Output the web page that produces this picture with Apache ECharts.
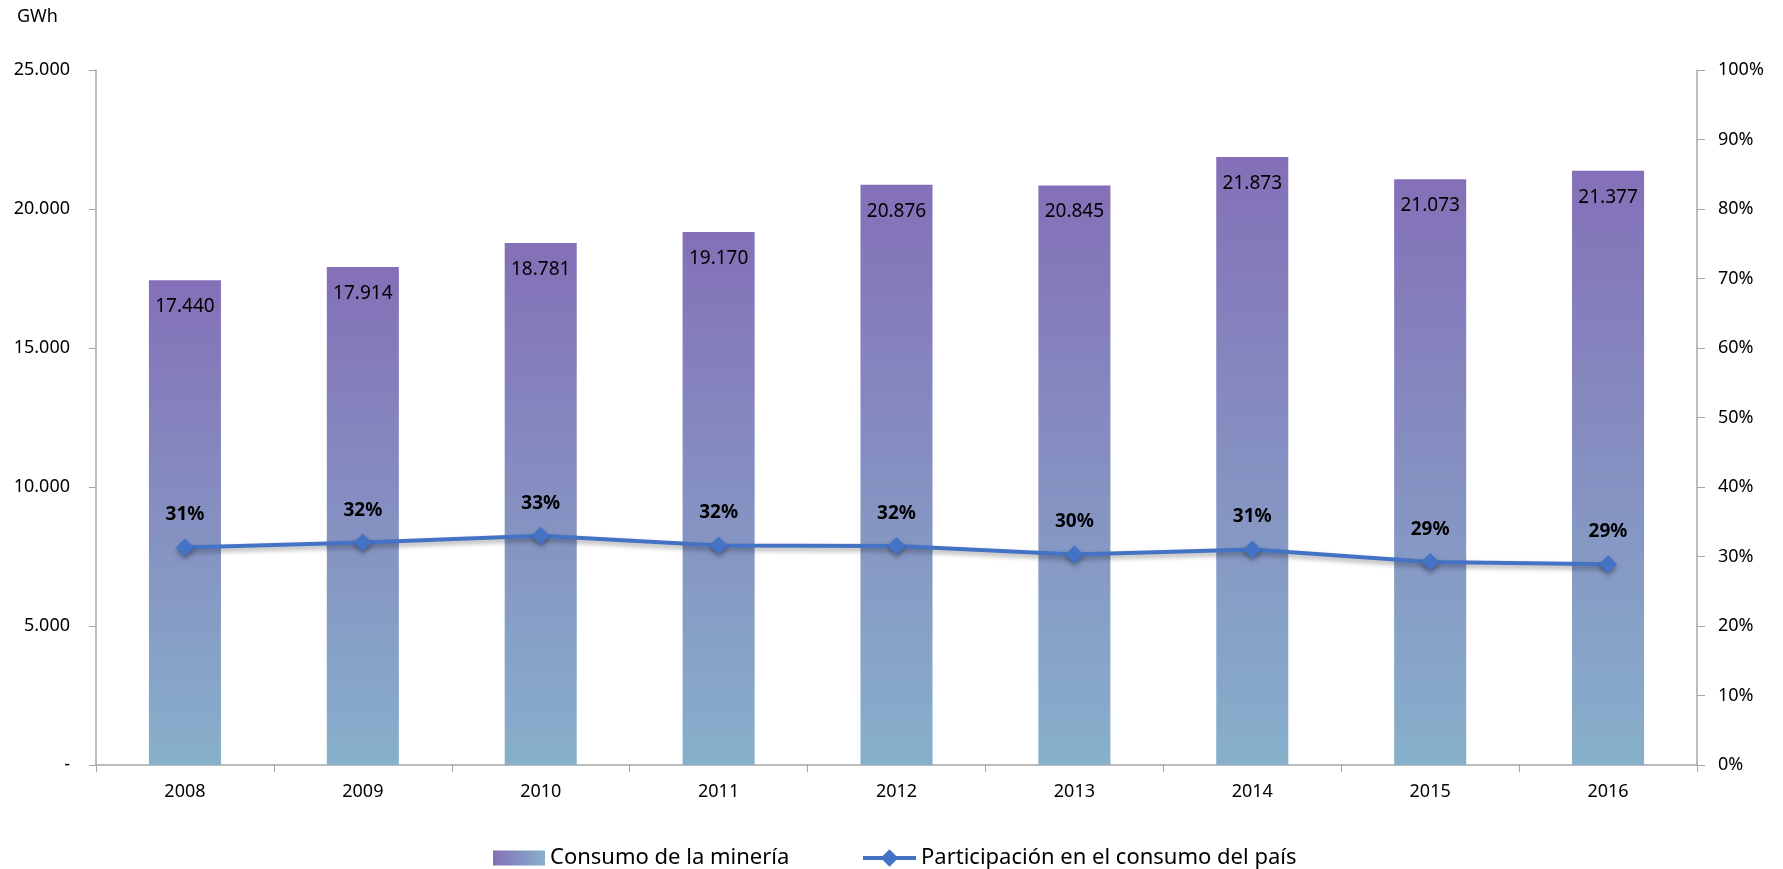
<!DOCTYPE html>
<html>
<head>
<meta charset="utf-8">
<script src="https://cdn.jsdelivr.net/npm/echarts@6/dist/echarts.min.js"></script>
<style>
html,body{margin:0;padding:0;background:#fff;}
#c{width:1783px;height:869px;}
</style>
</head>
<body>
<div id="c"></div>
<script>
const years = ['2008','2009','2010','2011','2012','2013','2014','2015','2016'];
const consumoMineria = [17440, 17914, 18781, 19170, 20876, 20845, 21873, 21073, 21377];
const participacion = [31.3, 32.0, 33.0, 31.6, 31.5, 30.3, 31.0, 29.2, 28.9];
const leftTicks = {min: 0, max: 25000, interval: 5000};
const rightTicks = {min: 0, max: 100, interval: 10};

const FONT = 'Noto Sans';
function fmtThousands(v){
  if (v === 0) return '-';
  return String(Math.round(v)).replace(/\B(?=(\d{3})+(?!\d))/g, '.');
}
const barGradient = new echarts.graphic.LinearGradient(0,0,0,1,[
  {offset:0, color:'#8470b8'},
  {offset:1, color:'#87b0cb'}
]);
const legendGradient = new echarts.graphic.LinearGradient(0,0,1,0,[
  {offset:0, color:'#8470b8'},
  {offset:1, color:'#87b0cb'}
]);
const chart = echarts.init(document.getElementById('c'));
chart.setOption({
  animation:false,
  textStyle:{fontFamily:FONT},
  grid:{left:96, right:86, top:70, bottom:104, containLabel:false},
  graphic:[{type:'text', left:17, top:8, style:{text:'GWh', font:'18px "Noto Sans"', fill:'#000'}}],
  legend:[{
    left:488, top:842,
    itemWidth:52, itemHeight:15,
    textStyle:{fontSize:22, color:'#000', fontFamily:FONT},
    data:[
      {name:'Consumo de la minería', icon:'rect', itemStyle:{color:legendGradient}}
    ]
  },{
    left:856, top:842,
    itemWidth:53, itemHeight:22,
    textStyle:{fontSize:22, color:'#000', fontFamily:FONT},
    data:[
      {name:'Participación en el consumo del país', lineStyle:{width:4, color:'#4472c4'}, itemStyle:{color:'#4472c4'}}
    ]
  }],
  xAxis:{
    type:'category', data:years, boundaryGap:true,
    axisLine:{lineStyle:{color:'#a6a6a6', width:1.5}},
    axisTick:{show:true, length:7, lineStyle:{color:'#a6a6a6'}},
    axisLabel:{fontSize:18, color:'#000', margin:18, fontFamily:FONT}
  },
  yAxis:[{
    type:'value', min:leftTicks.min, max:leftTicks.max, interval:leftTicks.interval,
    axisLine:{show:true, lineStyle:{color:'#a6a6a6', width:1.5}},
    axisTick:{show:true, length:7, lineStyle:{color:'#a6a6a6'}},
    splitLine:{show:false},
    axisLabel:{fontSize:18, color:'#000', margin:26, fontFamily:FONT, formatter:fmtThousands}
  },{
    type:'value', min:rightTicks.min, max:rightTicks.max, interval:rightTicks.interval,
    position:'right',
    axisLine:{show:true, lineStyle:{color:'#a6a6a6', width:1.5}},
    axisTick:{show:true, length:8, lineStyle:{color:'#a6a6a6'}},
    splitLine:{show:false},
    axisLabel:{fontSize:18, color:'#000', margin:21, fontFamily:FONT, formatter:v=>v+'%'}
  }],
  series:[{
    name:'Consumo de la minería', type:'bar', data:consumoMineria, yAxisIndex:0,
    barWidth:'40.5%',
    itemStyle:{color:barGradient},
    label:{show:true, position:'insideTop', distance:17, fontSize:19, color:'#000', fontFamily:FONT, formatter:p=>fmtThousands(p.value)}
  },{
    name:'Participación en el consumo del país', type:'line', data:participacion, yAxisIndex:1,
    symbol:'diamond', symbolSize:18,
    lineStyle:{color:'#4472c4', width:4, shadowColor:'rgba(0,0,0,0.35)', shadowBlur:5, shadowOffsetY:3},
    itemStyle:{color:'#4472c4', shadowColor:'rgba(0,0,0,0.35)', shadowBlur:5, shadowOffsetY:3},
    label:{show:true, position:'top', distance:14, fontSize:19, fontWeight:'bold', color:'#000', fontFamily:FONT, formatter:p=>Math.round(p.value)+'%'}
  }]
});
</script>
</body>
</html>
